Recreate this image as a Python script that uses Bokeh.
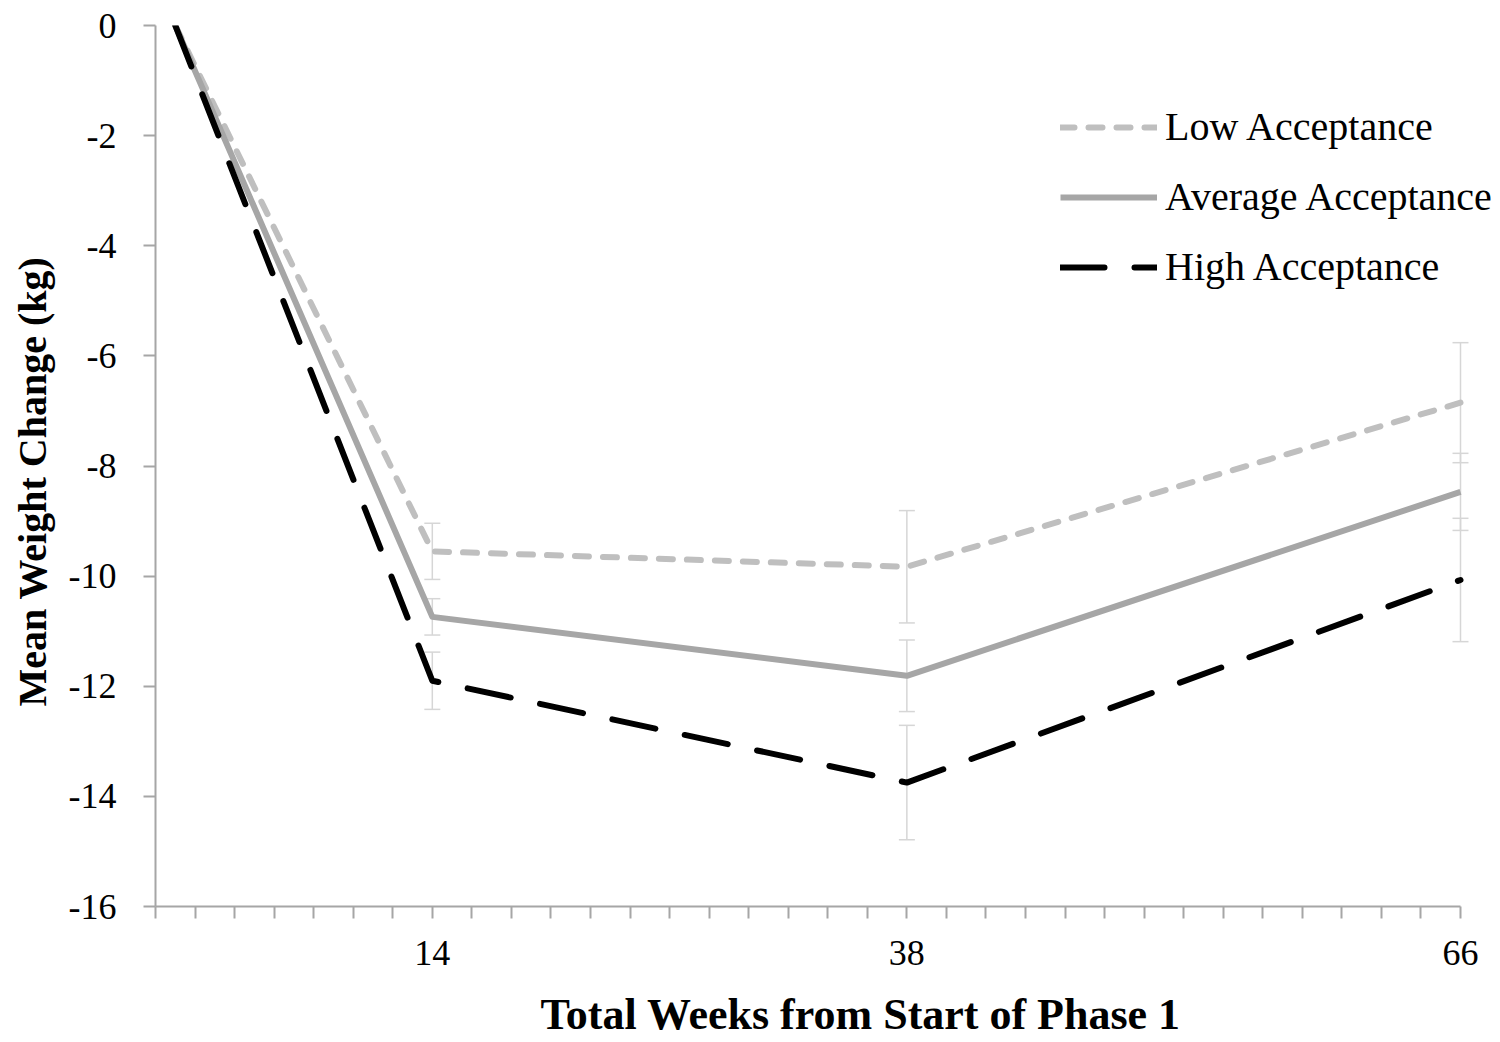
from bokeh.plotting import figure
from bokeh.models import (FixedTicker, Legend, LegendItem, Whisker, ColumnDataSource,
                          TeeHead, Range1d, Title)
from bokeh.embed import file_html
from bokeh.resources import INLINE

# ---- data ----
weeks = [1, 14, 38, 66]
low_vals = [0, -9.55, -9.83, -6.85]
avg_vals = [0, -10.74, -11.81, -8.47]
high_vals = [0, -11.90, -13.75, -10.07]

err_weeks = [14, 38, 66]
low_err = [0.51, 1.02, 1.09]
avg_err = [0.33, 0.65, 0.70]
high_err = [0.52, 1.04, 1.12]

series_names = ["Low Acceptance", "Average Acceptance", "High Acceptance"]

x_tick_values = list(range(0, 67, 2))
x_tick_labels = {14: "14", 38: "38", 66: "66"}
y_tick_values = [0, -2, -4, -6, -8, -10, -12, -14, -16]
y_tick_labels = ["0", "-2", "-4", "-6", "-8", "-10", "-12", "-14", "-16"]

x_title = "Total Weeks from Start of Phase 1"
y_title = "Mean Weight Change (kg)"

FONT = "Liberation Serif"
AXIS_GRAY = "#a6a6a6"
ERR_GRAY = "#d6d6d6"

# x axis spans 0..66 over 1305 px; the frame continues to the right so that the legend fits
X_MIN, X_MAX = 0, 66
FRAME_LEFT, AXIS_PX = 155, 1305
FIG_W = 1498
x_end = X_MAX + (FIG_W - FRAME_LEFT - AXIS_PX) * (X_MAX - X_MIN) / AXIS_PX

p = figure(width=FIG_W, height=1040, x_range=Range1d(X_MIN, x_end), y_range=Range1d(-16, 0),
           output_backend="svg", toolbar_location=None,
           min_border_left=FRAME_LEFT, min_border_right=0, min_border_top=25, min_border_bottom=133)
p.outline_line_color = None
p.xgrid.grid_line_color = None
p.ygrid.grid_line_color = None

# error bars
styles = [
    dict(vals=low_vals, err=low_err, color="#bfbfbf", dash="14 14", cap="round"),
    dict(vals=avg_vals, err=avg_err, color="#a6a6a6", dash="solid", cap="butt"),
    dict(vals=high_vals, err=high_err, color="#000000", dash="44 30", cap="round"),
]
for s in styles:
    centers = s["vals"][1:]
    src = ColumnDataSource(dict(
        x=err_weeks,
        upper=[c + e for c, e in zip(centers, s["err"])],
        lower=[c - e for c, e in zip(centers, s["err"])],
    ))
    w = Whisker(base="x", upper="upper", lower="lower", source=src,
                line_color=ERR_GRAY, line_width=1.5,
                upper_head=TeeHead(size=16, line_color=ERR_GRAY, line_width=1.5),
                lower_head=TeeHead(size=16, line_color=ERR_GRAY, line_width=1.5))
    p.add_layout(w)

renderers = []
for s in styles:
    r = p.line(weeks, s["vals"], line_color=s["color"], line_width=6,
               line_dash=s["dash"], line_cap=s["cap"], line_join="round")
    renderers.append(r)

legend = Legend(items=[LegendItem(label=n, renderers=[r]) for n, r in zip(series_names, renderers)],
                location=(905, 616), border_line_alpha=0, background_fill_alpha=0,
                glyph_width=97, glyph_height=46, label_height=46, label_standoff=8, spacing=23,
                padding=0, margin=0, label_text_font=FONT, label_text_font_size="40px",
                label_text_color="#000000", label_text_baseline="middle")
p.add_layout(legend)

# axes
xa = p.xaxis[0]
xa.ticker = FixedTicker(ticks=x_tick_values, minor_ticks=[])
xa.major_label_overrides = {v: x_tick_labels.get(v, "") for v in x_tick_values}
xa.bounds = (X_MIN, X_MAX)

ya = p.yaxis[0]
ya.ticker = FixedTicker(ticks=y_tick_values, minor_ticks=[])
ya.major_label_overrides = dict(zip(y_tick_values, y_tick_labels))

for ax in (xa, ya):
    ax.axis_line_color = AXIS_GRAY
    ax.axis_line_width = 2
    ax.major_tick_line_color = AXIS_GRAY
    ax.major_tick_line_width = 2
    ax.major_tick_out = 12
    ax.major_tick_in = 0
    ax.minor_tick_line_color = None
    ax.major_label_text_font = FONT
    ax.major_label_text_font_size = "36px"
    ax.major_label_text_color = "#000000"

xa.major_label_standoff = 22
ya.major_label_standoff = 27

# axis titles (placed as titles for exact positioning); a thin spacer pushes the x title down
p.add_layout(Title(text=" ", standoff=19, text_font=FONT, text_font_size="1px"), "below")
p.add_layout(Title(text=x_title, align="left", offset=385, standoff=0,
                   vertical_align="top",
                   text_font=FONT, text_font_size="44px", text_font_style="bold",
                   text_color="#000000"), "below")
p.add_layout(Title(text=y_title, align="left", offset=200, standoff=18,
                   vertical_align="top",
                   text_font=FONT, text_font_size="40px", text_font_style="bold",
                   text_color="#000000"), "left")

open("out.html", "w").write(file_html(p, INLINE))
